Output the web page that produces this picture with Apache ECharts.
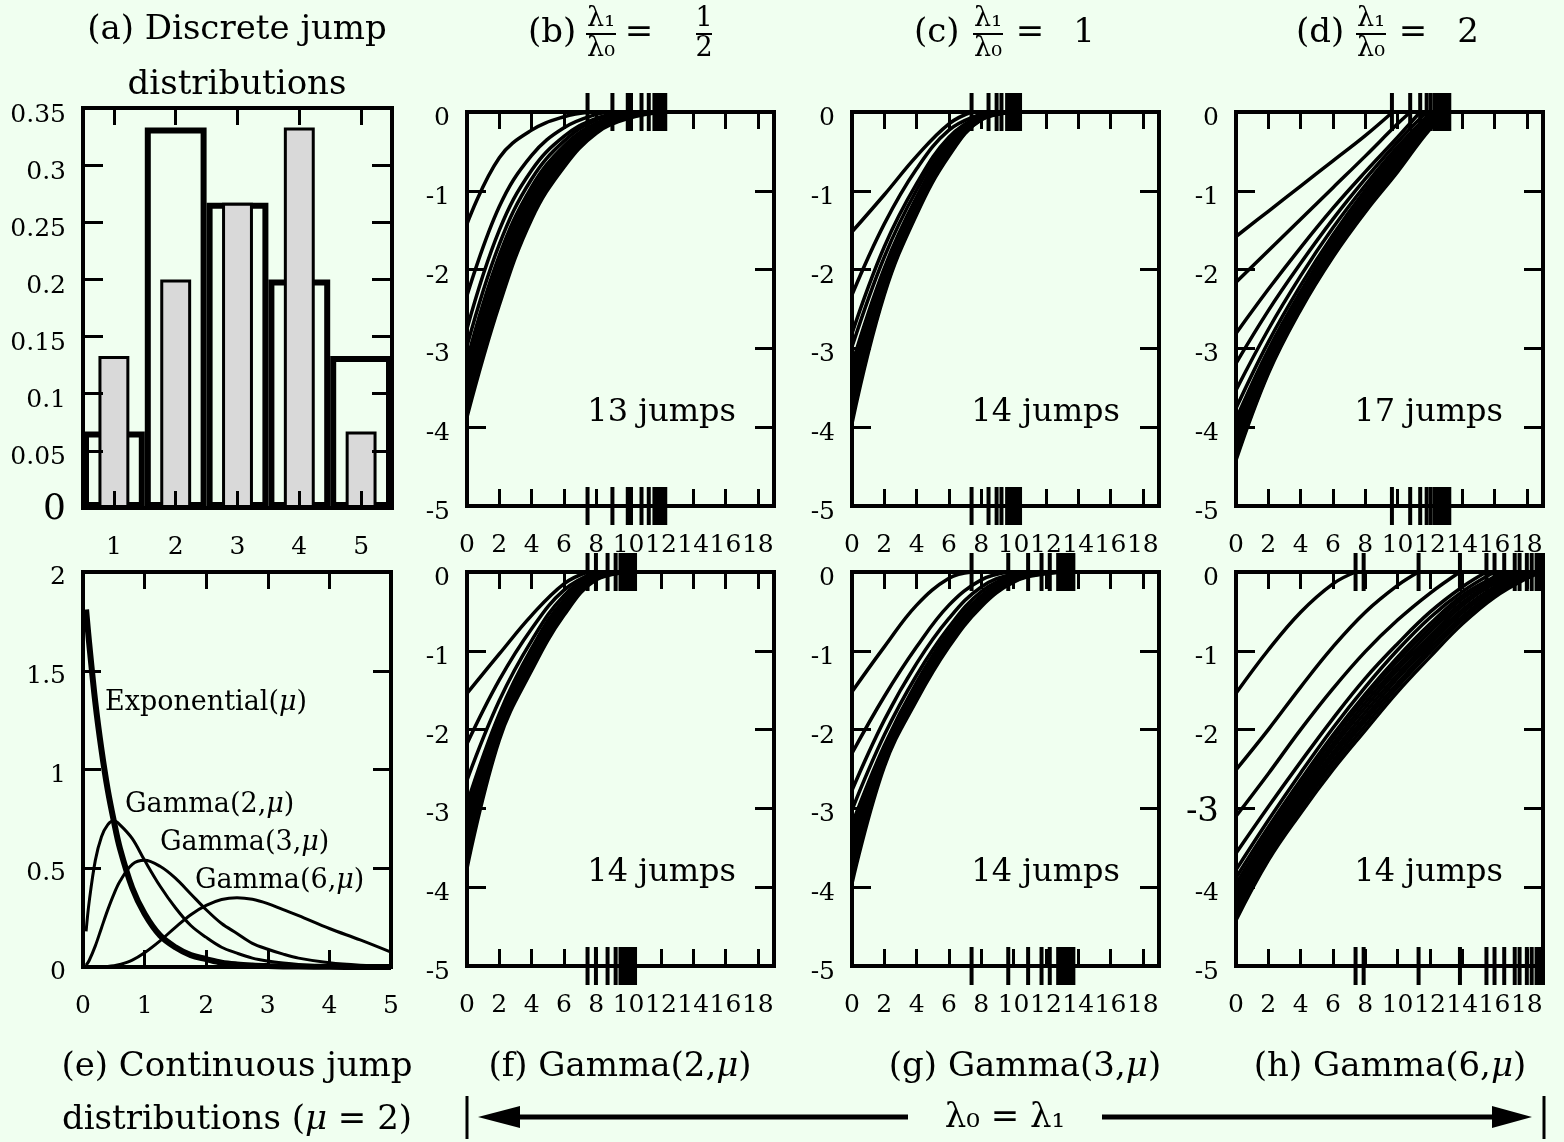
<!DOCTYPE html>
<html><head><meta charset="utf-8">
<script src="https://cdn.jsdelivr.net/npm/echarts@6/dist/echarts.min.js"></script>
<style>html,body{margin:0;padding:0;background:#f0fff0;}#c{width:1564px;height:1142px;}</style>
</head><body><div id="c"></div>
<script>
// ---------------- DATA ----------------
const discreteCats = ['1', '2', '3', '4', '5'];
const discreteBars = [0.133, 0.2, 0.267, 0.333, 0.067];
const discreteOutline = [0.067, 0.333, 0.267, 0.2, 0.133];

const contX = [0.05, 0.1, 0.2, 0.3, 0.4, 0.5, 0.6, 0.8, 1.0, 1.25, 1.5, 1.75, 2.0, 2.25, 2.5, 2.75, 3.0, 3.25, 3.5, 4.0, 4.5, 5.0];
const expY = [1.81, 1.64, 1.34, 1.10, 0.90, 0.74, 0.60, 0.40, 0.27, 0.16, 0.10, 0.06, 0.04, 0.022, 0.013, 0.008, 0.005, 0.003, 0.002, 0.001, 0.0, 0.0];
const gamma2Y = [0.18, 0.33, 0.54, 0.66, 0.72, 0.74, 0.72, 0.65, 0.54, 0.41, 0.30, 0.21, 0.15, 0.10, 0.07, 0.045, 0.03, 0.02, 0.013, 0.005, 0.002, 0.001];
const gamma3Y = [0.009, 0.033, 0.107, 0.198, 0.288, 0.368, 0.434, 0.52, 0.54, 0.51, 0.45, 0.37, 0.29, 0.22, 0.17, 0.12, 0.09, 0.065, 0.045, 0.021, 0.009, 0.004];
const gamma6Y = [0, 0, 0, 0.001, 0.0025, 0.006, 0.0125, 0.035, 0.072, 0.132, 0.201, 0.265, 0.312, 0.342, 0.351, 0.343, 0.321, 0.29, 0.26, 0.195, 0.137, 0.075];

// curves: values read at x = 0, 2, 4, ... ; each curve then reaches 0 at its end time
const stepX = [0, 2, 4, 6, 8, 10, 12, 14, 16, 18];

// (b) lambda1/lambda0 = 1/2
const jumpsB = [7.46, 9.0, 9.95, 10.15, 10.8, 11.25, 11.6, 11.75, 11.9, 12.0, 12.1, 12.2, 12.27];
const endsB = [7.6, 9.0, 10.0, 10.5, 11.0, 11.25, 11.5, 11.6, 11.75, 11.9, 12.0, 12.1, 12.27];
const curvesB = [
  [-1.42, -0.58, -0.23, -0.06],
  [-2.33, -1.2, -0.55, -0.2, -0.03],
  [-2.75, -1.5, -0.74, -0.31, -0.08],
  [-2.97, -1.68, -0.85, -0.37, -0.1, -0.01],
  [-3.15, -1.82, -0.95, -0.43, -0.14, -0.03],
  [-3.28, -1.9, -1.0, -0.46, -0.15, -0.035],
  [-3.4, -1.98, -1.05, -0.5, -0.17, -0.04],
  [-3.5, -2.06, -1.1, -0.53, -0.18, -0.045],
  [-3.58, -2.14, -1.15, -0.57, -0.2, -0.05],
  [-3.66, -2.22, -1.2, -0.6, -0.21, -0.055],
  [-3.73, -2.3, -1.25, -0.63, -0.23, -0.06],
  [-3.8, -2.38, -1.31, -0.67, -0.25, -0.07],
  [-3.87, -2.45, -1.36, -0.7, -0.27, -0.08]
];
// (c) lambda1/lambda0 = 1
const jumpsC = [7.4, 8.45, 8.95, 9.25, 9.6, 9.7, 9.8, 9.9, 10.0, 10.05, 10.1, 10.2, 10.3, 10.4];
const endsC = [7.4, 8.45, 8.95, 9.25, 9.6, 9.7, 9.8, 9.9, 10.0, 10.05, 10.1, 10.2, 10.3, 10.4];
const curvesC = [
  [-1.52, -1.05, -0.56, -0.15],
  [-2.32, -1.42, -0.72, -0.23, -0.02],
  [-2.81, -1.71, -0.91, -0.32, -0.04],
  [-2.98, -1.84, -0.99, -0.36, -0.05],
  [-3.2, -1.98, -1.08, -0.4, -0.06],
  [-3.3, -2.02, -1.1, -0.42, -0.065],
  [-3.4, -2.06, -1.13, -0.44, -0.07],
  [-3.5, -2.1, -1.15, -0.45, -0.075],
  [-3.58, -2.14, -1.18, -0.47, -0.08],
  [-3.66, -2.18, -1.2, -0.49, -0.085],
  [-3.74, -2.22, -1.23, -0.51, -0.09],
  [-3.82, -2.26, -1.25, -0.52, -0.09],
  [-3.89, -2.29, -1.28, -0.54, -0.095],
  [-3.95, -2.32, -1.3, -0.56, -0.1]
];
// (d) lambda1/lambda0 = 2
const jumpsD = [9.65, 10.78, 11.4, 11.8, 12.05, 12.3, 12.4, 12.5, 12.6, 12.7, 12.8, 12.85, 12.9, 13.0, 13.05, 13.1, 13.2];
const endsD = [9.7, 10.8, 11.4, 11.8, 12.1, 12.3, 12.4, 12.5, 12.6, 12.7, 12.8, 12.85, 12.9, 13.0, 13.05, 13.1, 13.2];
const curvesD = [
  [-1.58, -1.26, -0.94, -0.62, -0.3],
  [-2.16, -1.76, -1.36, -0.96, -0.56, -0.15],
  [-2.81, -2.25, -1.72, -1.22, -0.76, -0.32],
  [-3.19, -2.52, -1.92, -1.36, -0.85, -0.38],
  [-3.53, -2.76, -2.08, -1.47, -0.93, -0.44, -0.02],
  [-3.76, -2.92, -2.2, -1.56, -0.99, -0.48, -0.04],
  [-3.9, -3.02, -2.28, -1.62, -1.03, -0.52, -0.06],
  [-3.98, -3.06, -2.3, -1.64, -1.05, -0.54, -0.07],
  [-4.05, -3.1, -2.33, -1.66, -1.07, -0.56, -0.08],
  [-4.11, -3.13, -2.35, -1.68, -1.1, -0.58, -0.09],
  [-4.17, -3.16, -2.37, -1.7, -1.12, -0.6, -0.1],
  [-4.22, -3.19, -2.39, -1.72, -1.14, -0.63, -0.12],
  [-4.27, -3.22, -2.42, -1.74, -1.17, -0.65, -0.13],
  [-4.31, -3.25, -2.44, -1.77, -1.19, -0.68, -0.15],
  [-4.35, -3.27, -2.46, -1.79, -1.22, -0.7, -0.17],
  [-4.39, -3.3, -2.49, -1.82, -1.25, -0.73, -0.2],
  [-4.42, -3.32, -2.51, -1.84, -1.27, -0.76, -0.22]
];
// (f) Gamma(2,mu)
const jumpsF = [7.46, 7.98, 8.7, 9.2, 9.5, 9.6, 9.7, 9.8, 9.9, 10.0, 10.1, 10.2, 10.3, 10.4];
const endsF = [7.46, 8.0, 8.7, 9.2, 9.5, 9.6, 9.7, 9.8, 9.9, 10.0, 10.1, 10.2, 10.3, 10.4];
const curvesF = [
  [-1.54, -1.04, -0.55, -0.15],
  [-2.18, -1.37, -0.72, -0.23],
  [-2.64, -1.63, -0.87, -0.3, -0.02],
  [-2.94, -1.8, -0.97, -0.35, -0.04],
  [-3.05, -1.86, -1.0, -0.37, -0.05],
  [-3.14, -1.89, -1.03, -0.39, -0.055],
  [-3.23, -1.92, -1.05, -0.41, -0.06],
  [-3.32, -1.95, -1.08, -0.43, -0.065],
  [-3.4, -1.98, -1.11, -0.45, -0.07],
  [-3.48, -2.01, -1.14, -0.47, -0.075],
  [-3.56, -2.04, -1.17, -0.49, -0.08],
  [-3.63, -2.07, -1.19, -0.51, -0.085],
  [-3.7, -2.1, -1.22, -0.53, -0.09],
  [-3.76, -2.13, -1.25, -0.55, -0.1]
];
// (g) Gamma(3,mu)
const jumpsG = [7.4, 9.67, 10.9, 11.73, 12.24, 12.76, 12.9, 13.0, 13.1, 13.2, 13.3, 13.45, 13.6, 13.7];
const endsG = [7.4, 9.67, 10.9, 11.73, 12.24, 12.76, 12.9, 13.0, 13.1, 13.2, 13.3, 13.45, 13.6, 13.7];
const curvesG = [
  [-1.52, -0.95, -0.42, -0.08],
  [-2.3, -1.58, -0.95, -0.42, -0.1],
  [-2.77, -1.88, -1.16, -0.59, -0.19, -0.02],
  [-3.02, -2.07, -1.31, -0.7, -0.25, -0.05],
  [-3.2, -2.2, -1.4, -0.76, -0.3, -0.07],
  [-3.3, -2.23, -1.43, -0.78, -0.31, -0.075, -0.003],
  [-3.4, -2.26, -1.45, -0.8, -0.33, -0.08, -0.005],
  [-3.5, -2.29, -1.48, -0.82, -0.34, -0.085, -0.007],
  [-3.59, -2.32, -1.5, -0.84, -0.36, -0.09, -0.008],
  [-3.67, -2.35, -1.53, -0.86, -0.37, -0.1, -0.01],
  [-3.75, -2.38, -1.55, -0.88, -0.39, -0.11, -0.012],
  [-3.83, -2.41, -1.58, -0.9, -0.41, -0.115, -0.014],
  [-3.9, -2.44, -1.6, -0.93, -0.42, -0.12, -0.017],
  [-3.95, -2.47, -1.63, -0.95, -0.44, -0.13, -0.02]
];
// (h) Gamma(6,mu)
const jumpsH = [7.4, 7.9, 11.3, 13.86, 15.5, 16.0, 16.6, 17.25, 17.55, 18.0, 18.3, 18.6, 18.8, 19.0];
const endsH = [7.4, 11.3, 13.86, 15.5, 16.0, 16.6, 17.25, 17.55, 18.0, 18.3, 18.6, 18.8, 18.9, 19.0];
const curvesH = [
  [-1.54, -0.99, -0.51, -0.15],
  [-2.51, -2.0, -1.46, -0.95, -0.51, -0.17],
  [-3.1, -2.56, -2.0, -1.48, -1.01, -0.61, -0.27],
  [-3.57, -2.98, -2.41, -1.86, -1.35, -0.91, -0.51, -0.19],
  [-3.78, -3.15, -2.55, -1.98, -1.46, -0.99, -0.58, -0.25],
  [-3.88, -3.24, -2.64, -2.07, -1.55, -1.08, -0.66, -0.3, -0.06],
  [-3.96, -3.3, -2.69, -2.12, -1.6, -1.13, -0.71, -0.34, -0.09],
  [-4.03, -3.35, -2.74, -2.18, -1.66, -1.19, -0.76, -0.39, -0.12],
  [-4.1, -3.4, -2.8, -2.23, -1.72, -1.24, -0.82, -0.43, -0.15],
  [-4.17, -3.45, -2.85, -2.29, -1.78, -1.3, -0.87, -0.48, -0.19, -0.01],
  [-4.24, -3.5, -2.9, -2.34, -1.84, -1.35, -0.92, -0.52, -0.22, -0.02],
  [-4.3, -3.55, -2.95, -2.4, -1.89, -1.41, -0.97, -0.57, -0.25, -0.04],
  [-4.36, -3.61, -3.0, -2.45, -1.95, -1.46, -1.02, -0.61, -0.28, -0.06],
  [-4.42, -3.66, -3.06, -2.51, -2.01, -1.52, -1.08, -0.66, -0.32, -0.08]
];
const tailH = [19, 20.3];   // segments running past the right frame of (h)

const jumpCounts = ['13 jumps', '14 jumps', '17 jumps', '14 jumps', '14 jumps', '14 jumps'];

// ---------------- LAYOUT / STYLE ----------------
const FONT = 'DejaVu Serif';
const gridBoxes = [
  {left: 83, top: 108, width: 309, height: 400},   // a
  {left: 467, top: 112, width: 307, height: 394},  // b
  {left: 852, top: 112, width: 307, height: 394},  // c
  {left: 1236, top: 112, width: 307, height: 394}, // d
  {left: 83, top: 572, width: 308, height: 395},   // e
  {left: 467, top: 572, width: 307, height: 394},  // f
  {left: 852, top: 572, width: 307, height: 394},  // g
  {left: 1236, top: 572, width: 307, height: 394}  // h
];
const grids = gridBoxes.map(g => Object.assign({
  show: true, borderColor: '#000', borderWidth: 4, backgroundColor: 'transparent',
  containLabel: false, outerBoundsMode: 'none'
}, g));

const xAxes = [], yAxes = [];
function tick(len) {
  return {show: true, inside: true, length: len, alignWithLabel: true, lineStyle: {color: '#000', width: 3}};
}
function lab(extra) {
  return Object.assign({show: true, fontFamily: FONT, fontSize: 25, color: '#000', hideOverlap: false}, extra || {});
}
const noLine = {show: false, onZero: false};
function addX(gi, base, labelExtra, len) {
  xAxes.push(Object.assign({gridIndex: gi, position: 'bottom', axisLine: noLine, splitLine: {show: false},
    axisTick: tick(len), axisLabel: lab(labelExtra), z: 10}, base));
  xAxes.push(Object.assign({gridIndex: gi, position: 'top', axisLine: noLine, splitLine: {show: false},
    axisTick: tick(len), axisLabel: {show: false}, z: 10}, base));
}
function addY(gi, base, labelExtra, len) {
  yAxes.push(Object.assign({gridIndex: gi, position: 'left', axisLine: noLine, splitLine: {show: false},
    axisTick: tick(len), axisLabel: lab(labelExtra), z: 10}, base));
  yAxes.push(Object.assign({gridIndex: gi, position: 'right', axisLine: noLine, splitLine: {show: false},
    axisTick: tick(len), axisLabel: {show: false}, z: 10}, base));
}

const timeAxis = {type: 'value', min: 0, max: 19, interval: 2};
const timeLabel = {margin: 27, formatter: v => (v > 18.5 ? '' : String(v))};
const valAxis = {type: 'value', min: -5, max: 0, interval: 1};
const yShift = {verticalAlign: 'top', lineHeight: 13};
const valLabel = Object.assign({margin: 17, formatter: v => String(v)}, yShift);
const valLabelH = Object.assign({margin: 17,
  formatter: v => (v === -3 ? '{big|-3}' : String(v)),
  rich: {big: {fontFamily: FONT, fontSize: 34, color: '#000', lineHeight: 8}}}, yShift);

// a
addX(0, {type: 'category', data: discreteCats, boundaryGap: true}, {margin: 27}, 17);
addY(0, {type: 'value', min: 0, max: 0.35, interval: 0.05},
  Object.assign({margin: 17, formatter: v => (v === 0 ? '{big|0}' : String(+v.toFixed(2))),
   rich: {big: {fontFamily: FONT, fontSize: 36, color: '#000', lineHeight: 4}}}, {verticalAlign: 'top', lineHeight: 14}), 20);
// b c d
for (let gi = 1; gi <= 3; gi++) { addX(gi, timeAxis, timeLabel, 17); addY(gi, valAxis, valLabel, 19); }
// e
addX(4, {type: 'value', min: 0, max: 5, interval: 1}, {margin: 27}, 17);
addY(4, {type: 'value', min: 0, max: 2, interval: 0.5}, Object.assign({margin: 17}, {verticalAlign: 'top', lineHeight: 11}), 18);
// f g h
for (let gi = 5; gi <= 7; gi++) { addX(gi, timeAxis, timeLabel, 17); addY(gi, valAxis, gi === 7 ? valLabelH : valLabel, 19); }

// ---------------- SERIES ----------------
const series = [];
series.push({type: 'bar', xAxisIndex: 0, yAxisIndex: 0, data: discreteOutline, barWidth: '100%',
  itemStyle: {color: 'rgba(0,0,0,0)', borderColor: '#000', borderWidth: 6}, z: 2});
series.push({type: 'bar', xAxisIndex: 1, yAxisIndex: 0, data: discreteBars, barWidth: '50%',
  itemStyle: {color: '#d9d9d9', borderColor: '#000', borderWidth: 3, opacity: 1}, z: 3});

function contLine(ys, w) {
  return {type: 'line', xAxisIndex: 8, yAxisIndex: 8, data: contX.map((x, i) => [x, ys[i]]),
    smooth: 0.35, symbol: 'none', lineStyle: {color: '#000', width: w, opacity: 1}};
}
series.push(contLine(gamma6Y, 3), contLine(gamma3Y, 3), contLine(gamma2Y, 3), contLine(expY, 6));

const panels = [
  {gi: 1, curves: curvesB, ends: endsB, jumps: jumpsB},
  {gi: 2, curves: curvesC, ends: endsC, jumps: jumpsC},
  {gi: 3, curves: curvesD, ends: endsD, jumps: jumpsD},
  {gi: 5, curves: curvesF, ends: endsF, jumps: jumpsF},
  {gi: 6, curves: curvesG, ends: endsG, jumps: jumpsG},
  {gi: 7, curves: curvesH, ends: endsH, jumps: jumpsH}
];
panels.forEach(p => {
  const ax = 2 * p.gi;
  p.curves.forEach((ys, k) => {
    const d = ys.map((y, i) => [stepX[i], y]);
    d.push([p.ends[k], 0]);
    series.push({type: 'line', xAxisIndex: ax, yAxisIndex: ax, data: d, smooth: 0.4,
      symbol: 'none', lineStyle: {color: '#000', width: 3.5, opacity: 1}});
  });
  const rug = [];
  p.jumps.forEach(t => { rug.push([t, 0]); rug.push([t, -5]); });
  series.push({type: 'scatter', xAxisIndex: ax, yAxisIndex: ax, data: rug, symbol: 'rect',
    symbolSize: [4, 38], itemStyle: {color: '#000', opacity: 1}, clip: false, z: 5});
});
[0, -5].forEach(yv => {
  series.push({type: 'line', xAxisIndex: 14, yAxisIndex: 14, data: tailH.map(x => [x, yv]), clip: false,
    symbol: 'none', lineStyle: {color: '#000', width: 4, opacity: 1}});
});

// ---------------- TEXT / ANNOTATIONS ----------------
function T(text, x, y, size, align, extra) {
  return {type: 'text', x: x, y: y, silent: true, z: 20,
    style: Object.assign({text: text, font: size + 'px "' + FONT + '"', fill: '#000',
      align: align || 'center', verticalAlign: 'middle'}, extra || {})};
}
function L(x1, y1, x2, y2, w) {
  return {type: 'line', silent: true, z: 20, shape: {x1: x1, y1: y1, x2: x2, y2: y2}, style: {stroke: '#000', lineWidth: w}};
}
const muRich = {m: {font: 'italic 34px "' + FONT + '"', fill: '#000'}};
const muRichS = {m: {font: 'italic 27px "' + FONT + '"', fill: '#000'}};
function frac(num, den, cx, w) {
  return [T(num, cx, 19, 27), L(cx - w / 2, 34, cx + w / 2, 34, 2), T(den, cx, 49, 27)];
}
const graphics = [
  T('(a) Discrete jump', 237, 30, 34), T('distributions', 237, 85, 34),
  T('(b)', 528, 33, 34, 'left'), ...frac('λ₁', 'λ₀', 601, 30), T('=', 639, 33, 34), ...frac('1', '2', 704, 16),
  T('(c)', 914, 33, 34, 'left'), ...frac('λ₁', 'λ₀', 988, 30), T('=', 1030, 33, 34), T('1', 1084, 33, 34),
  T('(d)', 1296, 33, 34, 'left'), ...frac('λ₁', 'λ₀', 1371, 30), T('=', 1413, 33, 34), T('2', 1468, 33, 34),
  T('(e) Continuous jump', 237, 1067, 34), T('distributions ({m|μ} = 2)', 237, 1120, 34, 'center', {rich: muRich}),
  T('(f) Gamma(2,{m|μ})', 620, 1067, 34, 'center', {rich: muRich}),
  T('(g) Gamma(3,{m|μ})', 1025, 1067, 34, 'center', {rich: muRich}),
  T('(h) Gamma(6,{m|μ})', 1390, 1067, 34, 'center', {rich: muRich}),
  T('λ₀ = λ₁', 1005, 1118, 34),
  L(467, 1096, 467, 1139, 3), L(505, 1117, 908, 1117, 5),
  {type: 'polygon', silent: true, z: 20, shape: {points: [[478, 1117], [520, 1106], [520, 1128]]}, style: {fill: '#000'}},
  L(1102, 1117, 1500, 1117, 5),
  {type: 'polygon', silent: true, z: 20, shape: {points: [[1532, 1117], [1492, 1106], [1492, 1128]]}, style: {fill: '#000'}},
  L(1544, 1096, 1544, 1139, 3),
  T('Exponential({m|μ})', 105, 703, 27, 'left', {rich: muRichS}),
  T('Gamma(2,{m|μ})', 125, 805, 27, 'left', {rich: muRichS}),
  T('Gamma(3,{m|μ})', 160, 843, 27, 'left', {rich: muRichS}),
  T('Gamma(6,{m|μ})', 195, 881, 27, 'left', {rich: muRichS}),
  T(jumpCounts[0], 736, 413, 32, 'right'), T(jumpCounts[1], 1120, 413, 32, 'right'), T(jumpCounts[2], 1503, 413, 32, 'right'),
  T(jumpCounts[3], 736, 873, 32, 'right'), T(jumpCounts[4], 1120, 873, 32, 'right'), T(jumpCounts[5], 1503, 873, 32, 'right')
];

const chart = echarts.init(document.getElementById('c'), null, {renderer: 'canvas'});
chart.setOption({
  backgroundColor: '#f0fff0',
  animation: false,
  textStyle: {fontFamily: FONT},
  grid: grids,
  xAxis: xAxes,
  yAxis: yAxes,
  series: series,
  graphic: graphics
});
</script>
</body></html>
